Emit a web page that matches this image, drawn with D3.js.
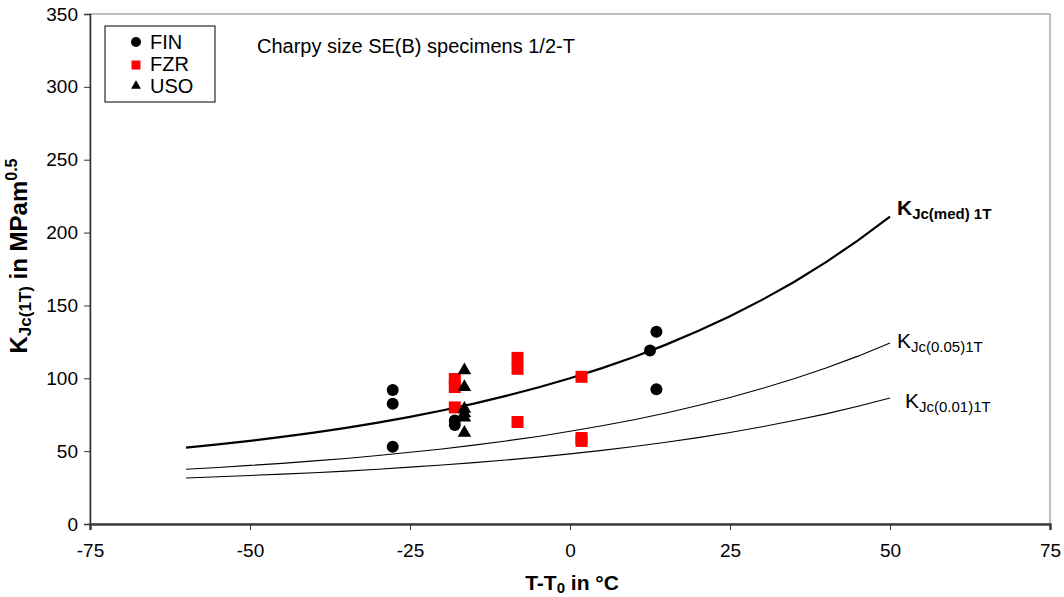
<!DOCTYPE html>
<head>
  <meta charset="utf-8">
  <title>Charpy size SE(B)</title>
  <script src="https://cdn.jsdelivr.net/npm/d3@7"></script>
  <style>
    body { margin: 0; background: #fff; }
    text { font-family: "Liberation Sans", Arial, sans-serif; }
  </style>
</head>
<body>
<script>
  var WIDTH = 1064, HEIGHT = 597;

  // measured data
  var finT = [-27.7, -27.7, -27.7, -18, -18, 12.5, 13.5, 13.5];
  var finK = [92, 82.5, 53, 71, 68, 119, 132, 92.5];
  var fzrT = [-18, -18, -18, -8.2, -8.2, -8.2, 1.8, 1.8, 1.8];
  var fzrK = [99.5, 94, 80, 114, 106.5, 70, 101, 59, 57];
  var usoT = [-16.5, -16.5, -16.5, -16.5, -16.5, -16.5];
  var usoK = [105.5, 94, 79, 76, 73, 62.5];

  // master curves
  var curveT = [-60, -55, -50, -45, -40, -35, -30, -25, -20, -15, -10, -5, 0,
                5, 10, 15, 20, 25, 30, 35, 40, 45, 50];
  var kMed = [52.4, 54.6, 57.1, 59.8, 62.7, 66.0, 69.6, 73.5, 77.9, 82.6, 87.9, 93.7, 100,
              107.0, 114.6, 123.1, 132.4, 142.6, 153.8, 166.1, 179.7, 194.6, 211.0];
  var k005 = [37.6, 38.8, 40.2, 41.6, 43.3, 45.0, 47.0, 49.2, 51.5, 54.1, 57.0, 60.1, 63.6,
              67.4, 71.6, 76.2, 81.3, 86.8, 93.0, 99.7, 107.1, 115.2, 124.2];
  var k001 = [31.6, 32.4, 33.3, 34.2, 35.2, 36.3, 37.6, 39.0, 40.5, 42.1, 43.9, 45.9, 48.1,
              50.5, 53.2, 56.1, 59.3, 62.8, 66.7, 71.0, 75.6, 80.8, 86.5];

  var xTicks = [-75, -50, -25, 0, 25, 50, 75];
  var yTicks = [0, 50, 100, 150, 200, 250, 300, 350];

  var m = {left: 90, right: 1050, top: 14, bottom: 524};

  var svg = d3.select("body").append("svg")
              .attr("width", WIDTH)
              .attr("height", HEIGHT);

  var x = d3.scaleLinear().domain([-75, 75]).range([m.left, m.right]);
  var y = d3.scaleLinear().domain([0, 350]).range([m.bottom, m.top]);
  var plain = function(d){ return String(d); };  // keep "-" hyphen like the original

  //frame
  svg.append("rect")
     .attr("x", m.left).attr("y", m.top)
     .attr("width", m.right - m.left).attr("height", m.bottom - m.top)
     .attr("fill", "none").attr("stroke", "#808080").attr("stroke-width", 1);

  //axes
  var yAxis = svg.append("g")
                 .attr("transform", "translate(" + m.left + ",0)")
                 .call(d3.axisLeft(y).tickValues(yTicks).tickFormat(plain).tickSize(6).tickPadding(6));
  var xAxis = svg.append("g")
                 .attr("transform", "translate(0," + m.bottom + ")")
                 .call(d3.axisBottom(x).tickValues(xTicks).tickFormat(plain).tickSize(6).tickPadding(14));
  yAxis.select(".domain").attr("stroke", "#333").attr("stroke-width", 1.5);
  xAxis.select(".domain").attr("stroke", "#404040").attr("stroke-width", 2.5);
  svg.selectAll(".tick line").attr("stroke", "#333");
  svg.selectAll(".tick text")
     .attr("font-size", 19).attr("fill", "#000")
     .style("font-family", "'Liberation Sans', Arial, sans-serif");

  //curves
  var line = d3.line()
               .x(function(d){ return x(d[0]); })
               .y(function(d){ return y(d[1]); });
  [[kMed, 2.2], [k005, 1.1], [k001, 1.1]].forEach(function(c){
    svg.append("path")
       .datum(curveT.map(function(t, i){ return [t, c[0][i]]; }))
       .attr("d", line)
       .attr("fill", "none")
       .attr("stroke", "#000")
       .attr("stroke-width", c[1]);
  });

  //points
  svg.selectAll("circle.fin")
     .data(finT.map(function(t, i){ return [t, finK[i]]; }))
     .enter().append("circle")
     .attr("cx", function(d){ return x(d[0]); })
     .attr("cy", function(d){ return y(d[1]); })
     .attr("r", 6).attr("fill", "#000");

  svg.selectAll("rect.fzr")
     .data(fzrT.map(function(t, i){ return [t, fzrK[i]]; }))
     .enter().append("rect")
     .attr("x", function(d){ return x(d[0]) - 6; })
     .attr("y", function(d){ return y(d[1]) - 6; })
     .attr("width", 12).attr("height", 12).attr("fill", "#ff0000");

  var tri = d3.symbol().type(d3.symbolTriangle).size(80);
  svg.selectAll("path.uso")
     .data(usoT.map(function(t, i){ return [t, usoK[i]]; }))
     .enter().append("path")
     .attr("d", tri)
     .attr("transform", function(d){ return "translate(" + x(d[0]) + "," + y(d[1]) + ")"; })
     .attr("fill", "#000");

  //legend
  var leg = svg.append("g");
  leg.append("rect")
     .attr("x", 105).attr("y", 26).attr("width", 110).attr("height", 76)
     .attr("fill", "#fff").attr("stroke", "#000").attr("stroke-width", 1);
  leg.append("circle").attr("cx", 136).attr("cy", 42).attr("r", 5).attr("fill", "#000");
  leg.append("rect").attr("x", 131.5).attr("y", 60.5).attr("width", 9).attr("height", 9).attr("fill", "#ff0000");
  leg.append("path").attr("d", d3.symbol().type(d3.symbolTriangle).size(42))
     .attr("transform", "translate(136,86)").attr("fill", "#000");
  ["FIN", "FZR", "USO"].forEach(function(s, i){
    leg.append("text")
       .attr("x", 150).attr("y", 42 + i * 22).attr("dy", "0.36em")
       .attr("font-size", 20).text(s);
  });

  svg.append("text")
     .attr("x", 257).attr("y", 53)
     .attr("font-size", 20)
     .text("Charpy size SE(B) specimens 1/2-T");

  //curve labels
  function kLabel(px, py, sub, bold){
    var t = svg.append("text")
               .attr("x", px).attr("y", py)
               .attr("font-weight", bold ? "bold" : "normal");
    t.append("tspan").attr("font-size", 21).text("K");
    t.append("tspan").attr("font-size", 15).attr("dy", 4).text(sub);
  }
  kLabel(897, 215, "Jc(med) 1T", true);
  kLabel(897, 348, "Jc(0.05)1T", false);
  kLabel(905, 408, "Jc(0.01)1T", false);

  //axis titles
  var xt = svg.append("text")
              .attr("x", 572).attr("y", 590)
              .attr("text-anchor", "middle")
              .attr("font-weight", "bold");
  xt.append("tspan").attr("font-size", 21).text("T-T");
  xt.append("tspan").attr("font-size", 15).attr("dy", 3).text("0");
  xt.append("tspan").attr("font-size", 21).attr("dy", -3).text(" in °C");

  var yt = svg.append("text")
              .attr("transform", "translate(27,256) rotate(-90)")
              .attr("text-anchor", "middle")
              .attr("font-weight", "bold");
  yt.append("tspan").attr("font-size", 24).text("K");
  yt.append("tspan").attr("font-size", 17).attr("dy", 4).text("Jc(1T)");
  yt.append("tspan").attr("font-size", 24).attr("dy", -4).text(" in MPam");
  yt.append("tspan").attr("font-size", 16).attr("dy", -10).text("0.5");
</script>
</body>
